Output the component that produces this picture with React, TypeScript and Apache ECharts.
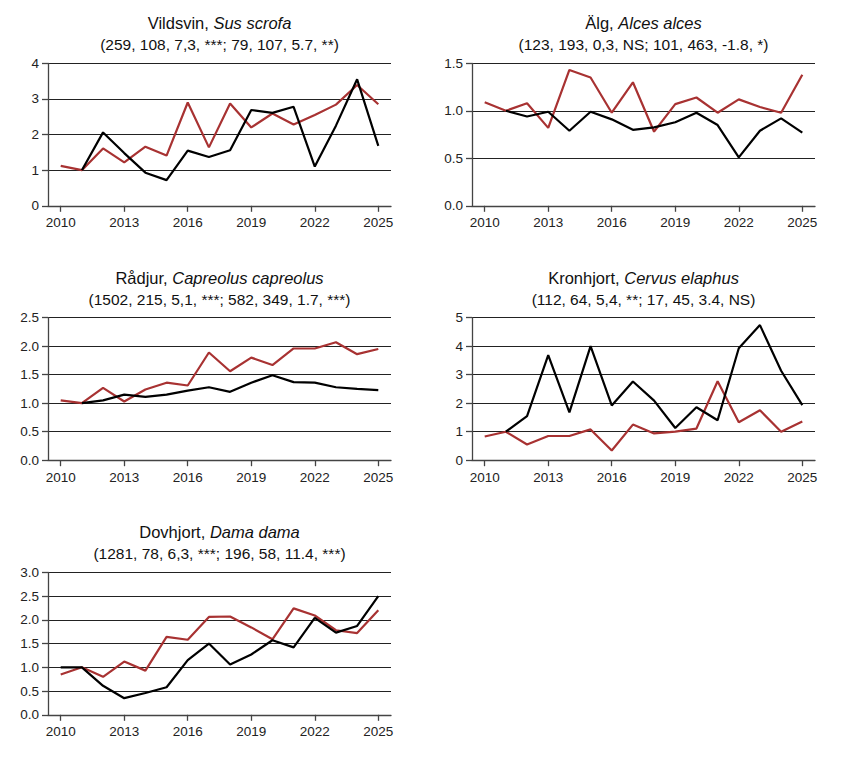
import React, { useEffect, useRef } from "react";
import * as echarts from "echarts";

const years = [2010, 2011, 2012, 2013, 2014, 2015, 2016, 2017, 2018, 2019, 2020, 2021, 2022, 2023, 2024, 2025];
const tickYears = [2010, 2013, 2016, 2019, 2022, 2025];

const titles = ["Vildsvin, ", "Älg, ", "Rådjur, ", "Kronhjort, ", "Dovhjort, "];
const latinNames = ["Sus scrofa", "Alces alces", "Capreolus capreolus", "Cervus elaphus", "Dama dama"];
const subtitles = [
  "(259, 108, 7,3, ***; 79, 107, 5.7, **)",
  "(123, 193, 0,3, NS; 101, 463, -1.8, *)",
  "(1502, 215, 5,1, ***; 582, 349, 1.7, ***)",
  "(112, 64, 5,4, **; 17, 45, 3.4, NS)",
  "(1281, 78, 6,3, ***; 196, 58, 11.4, ***)",
];

const yMax = [4, 1.5, 2.5, 5, 3];
const yStep = [1, 0.5, 0.5, 1, 0.5];

// red series (from 2010)
const redVildsvin = [1.12, 1.0, 1.61, 1.22, 1.66, 1.41, 2.9, 1.64, 2.87, 2.2, 2.59, 2.28, 2.55, 2.84, 3.39, 2.85];
const redAlg = [1.09, 1.0, 1.08, 0.82, 1.43, 1.35, 0.98, 1.3, 0.78, 1.07, 1.14, 0.98, 1.12, 1.04, 0.98, 1.38];
const redRadjur = [1.05, 1.0, 1.27, 1.03, 1.24, 1.36, 1.31, 1.89, 1.56, 1.8, 1.67, 1.96, 1.96, 2.07, 1.86, 1.95];
const redKronhjort = [0.83, 1.0, 0.55, 0.85, 0.85, 1.08, 0.34, 1.25, 0.94, 1.0, 1.11, 2.77, 1.33, 1.75, 1.0, 1.36];
const redDovhjort = [0.85, 1.0, 0.8, 1.12, 0.93, 1.64, 1.58, 2.06, 2.07, 1.84, 1.59, 2.24, 2.09, 1.78, 1.72, 2.2];

// black series (null = no value)
const blackVildsvin = [null, 1.0, 2.06, 1.48, 0.93, 0.72, 1.55, 1.37, 1.56, 2.69, 2.61, 2.78, 1.1, 2.25, 3.55, 1.68];
const blackAlg = [null, 1.0, 0.94, 0.99, 0.79, 0.99, 0.91, 0.8, 0.825, 0.88, 0.98, 0.85, 0.51, 0.79, 0.92, 0.77];
const blackRadjur = [null, 1.0, 1.05, 1.15, 1.11, 1.15, 1.22, 1.28, 1.2, 1.36, 1.49, 1.37, 1.36, 1.28, 1.25, 1.23];
const blackKronhjort = [null, 1.0, 1.55, 3.69, 1.68, 4.0, 1.92, 2.76, 2.09, 1.13, 1.86, 1.4, 3.93, 4.74, 3.14, 1.93];
const blackDovhjort = [1.0, 1.0, 0.61, 0.35, 0.46, 0.58, 1.15, 1.5, 1.06, 1.27, 1.57, 1.42, 2.04, 1.73, 1.87, 2.5];

const redSeries = [redVildsvin, redAlg, redRadjur, redKronhjort, redDovhjort];
const blackSeries = [blackVildsvin, blackAlg, blackRadjur, blackKronhjort, blackDovhjort];

const RED = "#a83232";
const FONT = "Liberation Sans, Arial, sans-serif";

export default function App() {
  const ref = useRef<HTMLDivElement>(null);

  useEffect(() => {
    document.body.style.margin = "0";
    if (!ref.current) return;
    const chart = echarts.init(ref.current, null, { renderer: "svg" });

    const lefts = [48, 472, 48, 472, 48];
    const tops = [63.3, 63.3, 317.7, 317.7, 572.3];
    const W = 343;
    const H = 142.5;

    const grids: any[] = [];
    const xAxes: any[] = [];
    const yAxes: any[] = [];
    const series: any[] = [];
    const graphics: any[] = [];

    for (let i = 0; i < 5; i++) {
      grids.push({ left: lefts[i], top: tops[i], width: W, height: H, containLabel: false });
      xAxes.push({
        type: "value",
        gridIndex: i,
        min: 2009.4,
        max: 2025.6,
        splitLine: { show: false },
        axisLine: { show: true, lineStyle: { color: "#444", width: 1.3 } },
        axisTick: { show: true, length: 6, lineStyle: { color: "#444", width: 1.3 }, customValues: tickYears },
        axisLabel: {
          customValues: tickYears,
          margin: 10,
          fontSize: 13.5,
          fontFamily: FONT,
          color: "#222",
          formatter: (v: number) => String(Math.round(v)),
        },
      });
      yAxes.push({
        type: "value",
        gridIndex: i,
        min: 0,
        max: yMax[i],
        interval: yStep[i],
        splitLine: { show: true, lineStyle: { color: "#222", width: 1.2 } },
        axisLine: { show: true, lineStyle: { color: "#444", width: 1.3 } },
        axisTick: { show: true, length: 6, lineStyle: { color: "#444", width: 1.3 } },
        axisLabel: {
          margin: 9,
          fontSize: 13.5,
          fontFamily: FONT,
          color: "#222",
          formatter: (v: number) => (yStep[i] < 1 ? v.toFixed(1) : String(v)),
        },
      });
      series.push({
        type: "line",
        xAxisIndex: i,
        yAxisIndex: i,
        data: years.map((y, k) => [y, redSeries[i][k]]),
        symbol: "none",
        lineStyle: { color: RED, width: 2.2 },
        z: 2,
      });
      series.push({
        type: "line",
        xAxisIndex: i,
        yAxisIndex: i,
        data: years.map((y, k) => [y, blackSeries[i][k]]).filter((d) => d[1] !== null),
        symbol: "none",
        lineStyle: { color: "#000", width: 2.2 },
        z: 3,
      });
      const cx = lefts[i] + W / 2;
      graphics.push({
        type: "text",
        x: cx,
        y: tops[i] - 31.7,
        style: {
          text: titles[i] + "{i|" + latinNames[i] + "}",
          fontSize: 16.5,
          fontFamily: FONT,
          fill: "#111",
          align: "center",
          verticalAlign: "bottom",
          rich: {
            i: { fontStyle: "italic", fontSize: 16.5, fontFamily: FONT, fill: "#111" },
          },
        },
      });
      graphics.push({
        type: "text",
        x: cx,
        y: tops[i] - 10.7,
        style: {
          text: subtitles[i],
          fontSize: 15.5,
          fontFamily: FONT,
          fill: "#111",
          align: "center",
          verticalAlign: "bottom",
        },
      });
    }

    chart.setOption({
      animation: false,
      backgroundColor: "#fff",
      grid: grids,
      xAxis: xAxes,
      yAxis: yAxes,
      series,
      graphic: graphics,
    });

    return () => chart.dispose();
  }, []);

  return <div ref={ref} style={{ width: 848, height: 761 }} />;
}
